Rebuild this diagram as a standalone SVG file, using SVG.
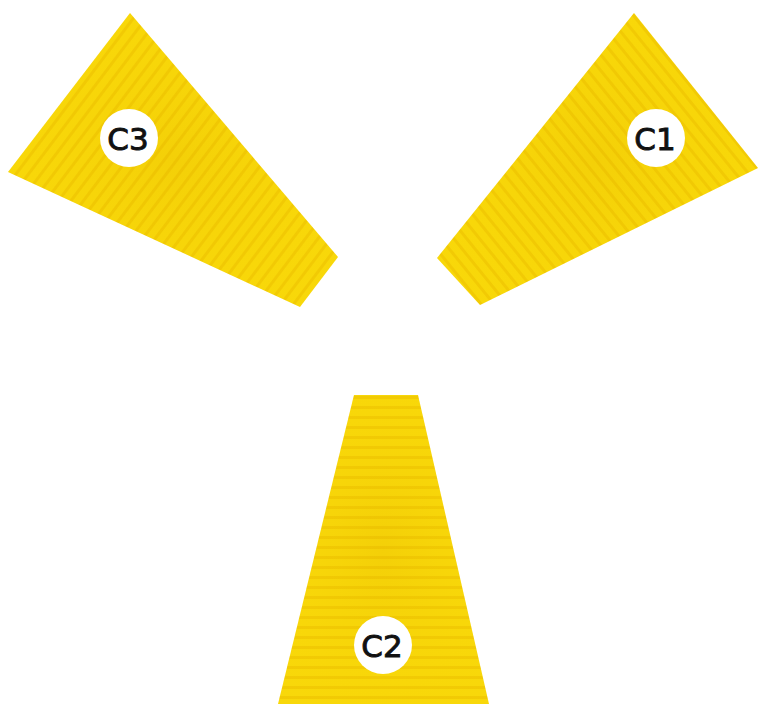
<svg xmlns="http://www.w3.org/2000/svg" width="760" height="704" viewBox="0 0 760 704">
  <style>
    .lbl { fill: #ffffff; }
    .txt { font-family: "DejaVu Sans", "Liberation Sans", sans-serif; font-size: 31px; font-weight: normal; fill: #111111; stroke: #111111; stroke-width: 0.9; text-anchor: middle; }
  </style>
  <defs>
    <pattern id="stripesV" patternUnits="userSpaceOnUse" width="20" height="10">
      <rect width="20" height="10" fill="#F8D70A"/>
      <rect y="6" width="20" height="3" fill="#ECBF00" opacity="0.6"/>
    </pattern>
    <pattern id="stripes3" href="#stripesV" patternTransform="rotate(-53)"/>
    <pattern id="stripes1" href="#stripesV" patternTransform="rotate(51)"/>
    <radialGradient id="shade" cx="0.5" cy="0.5" r="0.6">
      <stop offset="0" stop-color="#E2B200" stop-opacity="0.2"/>
      <stop offset="1" stop-color="#FFE400" stop-opacity="0.05"/>
    </radialGradient>
  </defs>
  <rect width="760" height="704" fill="#ffffff"/>

  <g id="blade-c3">
    <polygon points="130,13 338,257 300,307 8,172" fill="url(#stripes3)"/>
    <polygon points="130,13 338,257 300,307 8,172" fill="url(#shade)"/>
  </g>
  <g id="blade-c1">
    <polygon points="634,13 758,168 480,305 437,258" fill="url(#stripes1)"/>
    <polygon points="634,13 758,168 480,305 437,258" fill="url(#shade)"/>
  </g>
  <g id="blade-c2">
    <polygon points="354,395 418,395 489,704 278,704" fill="url(#stripesV)"/>
    <polygon points="354,395 418,395 489,704 278,704" fill="url(#shade)"/>
  </g>

  <g id="label-c3">
    <circle class="lbl" cx="129" cy="138" r="29"/>
    <text class="txt" x="128" y="150">C3</text>
  </g>
  <g id="label-c1">
    <circle class="lbl" cx="656" cy="138" r="29"/>
    <text class="txt" x="655" y="150">C1</text>
  </g>
  <g id="label-c2">
    <circle class="lbl" cx="383" cy="645" r="29"/>
    <text class="txt" x="382" y="657">C2</text>
  </g>
</svg>
